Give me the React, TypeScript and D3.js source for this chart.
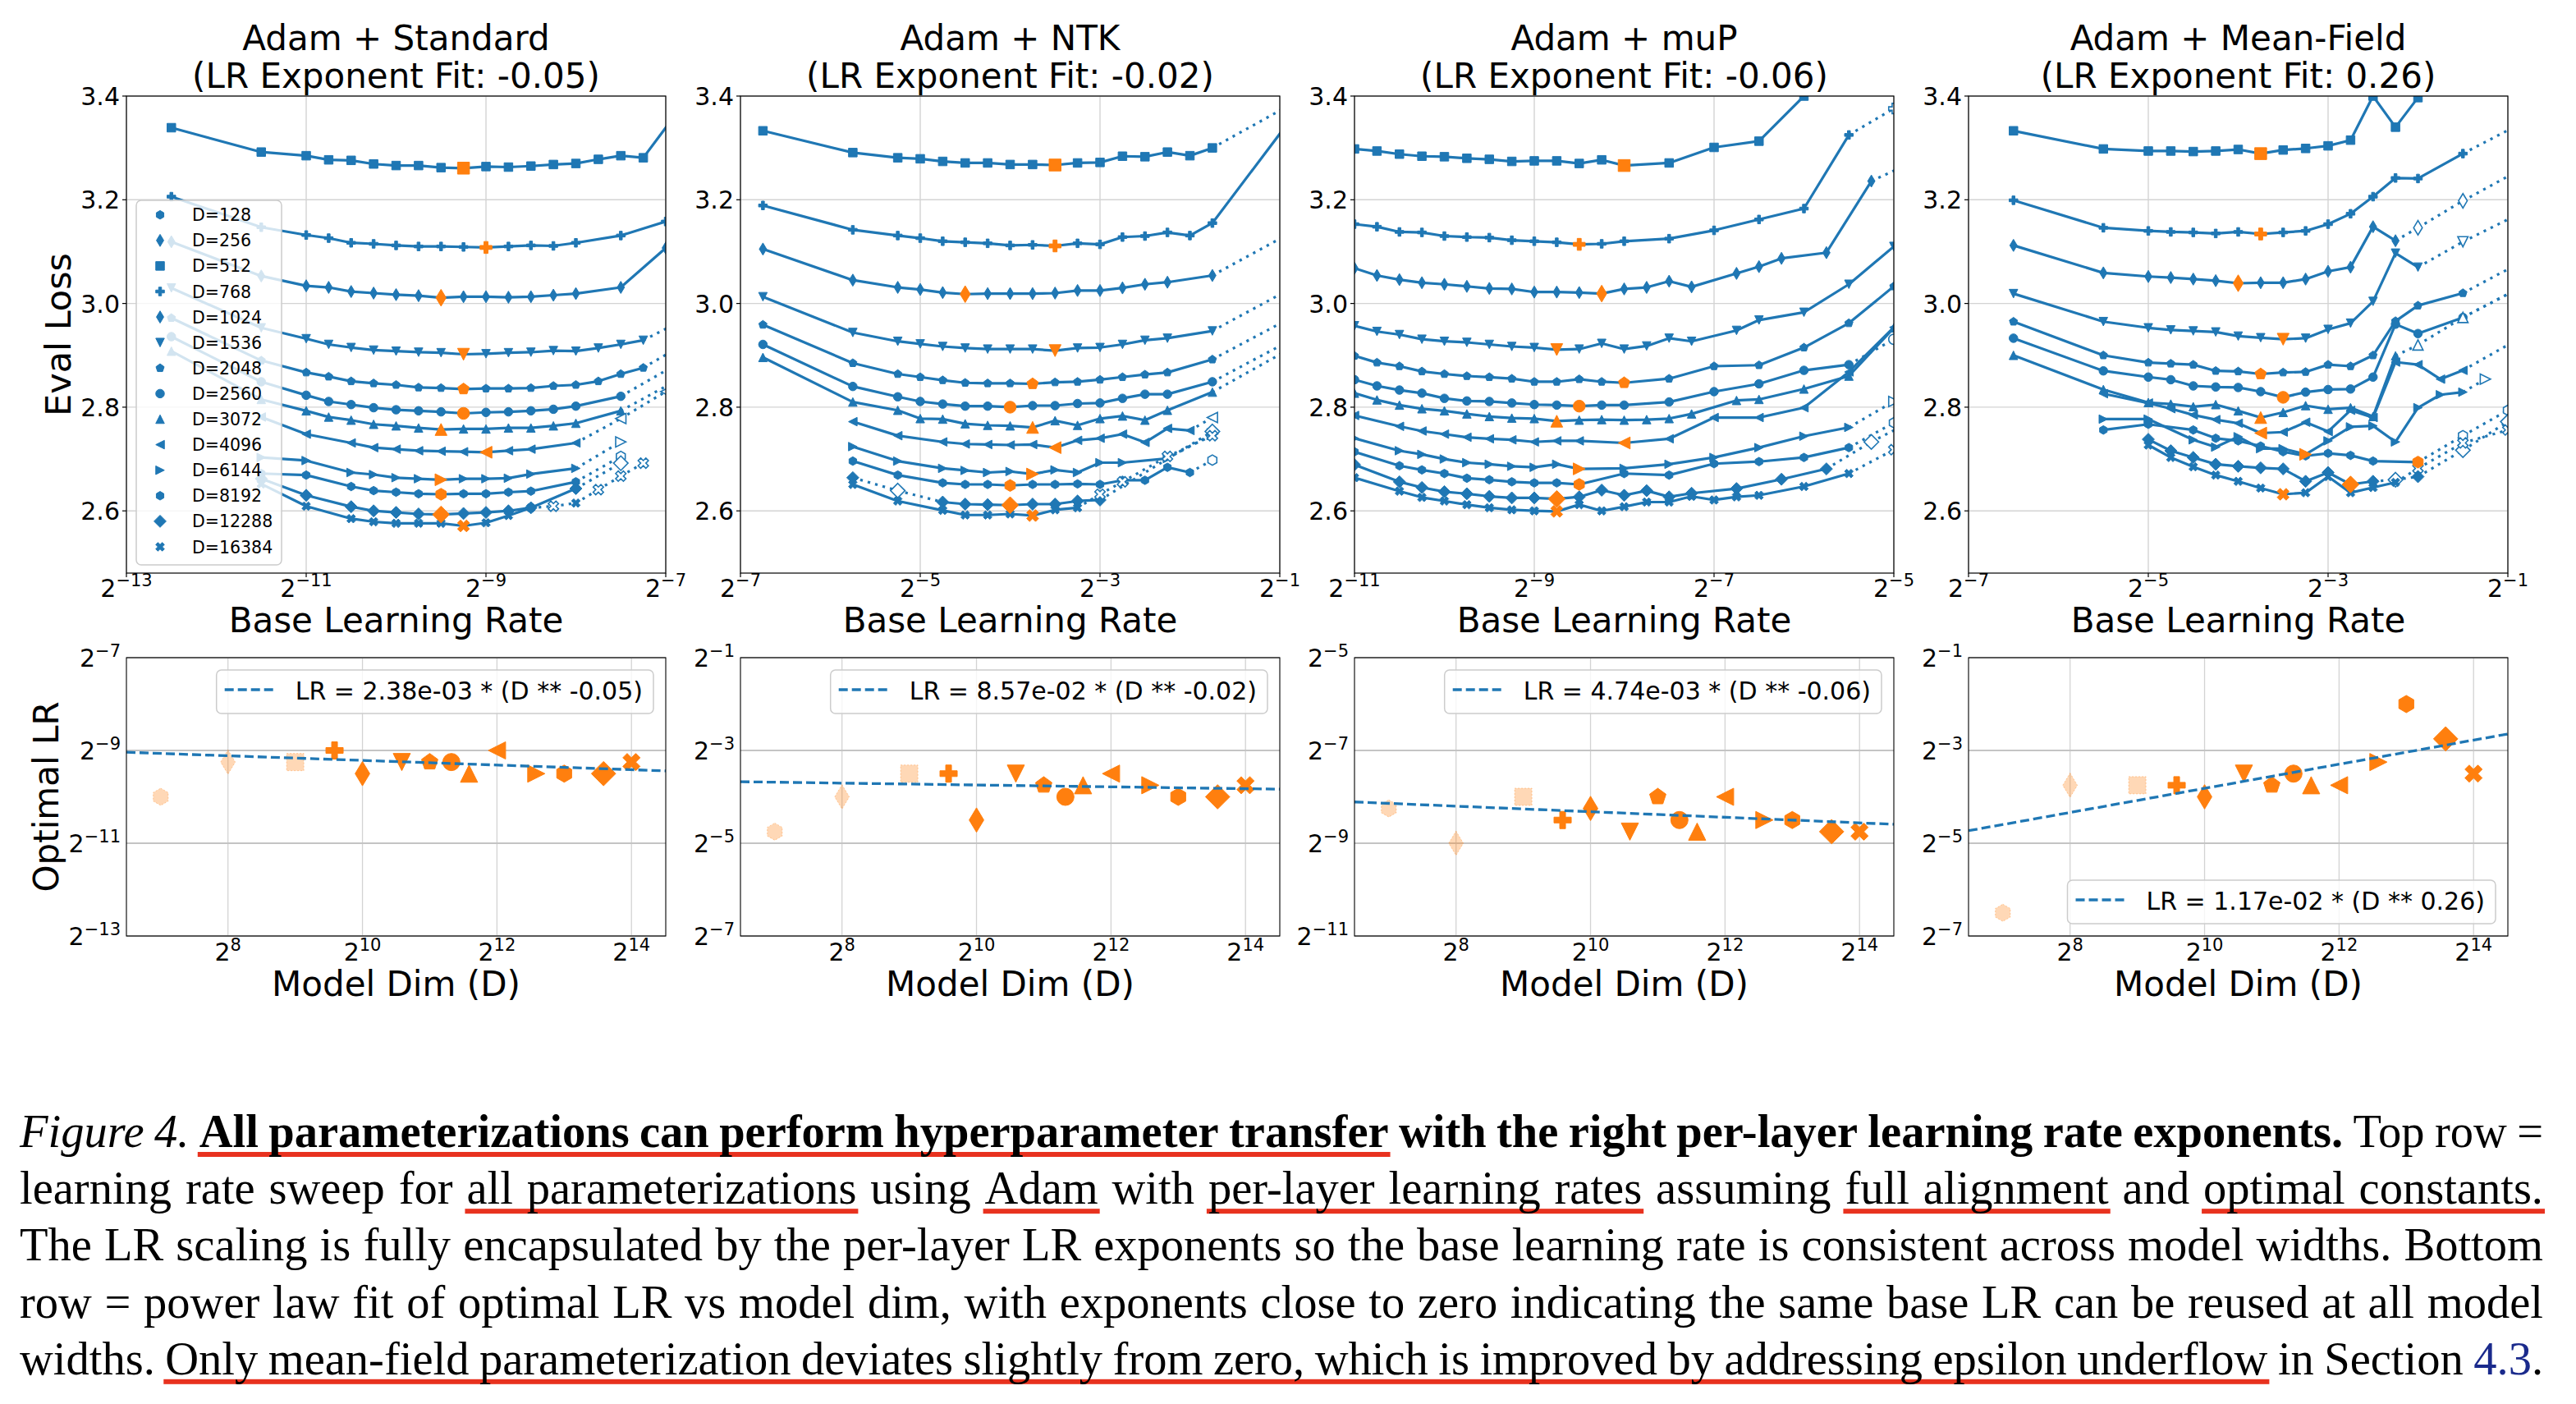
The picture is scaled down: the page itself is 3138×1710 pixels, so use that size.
import React, { useEffect, useRef } from "react";
import * as d3 from "d3";

type Pt = number[]; // [log2(base LR), eval loss, imputed? 1 : 0]
type Curve = { d: number; pts: Pt[] };

// ---------------- data ----------------
const MODEL_DIMS = [128, 256, 512, 768, 1024, 1536, 2048, 2560, 3072, 4096, 6144, 8192, 12288, 16384];
const MODEL_MARKERS = ["h", "d", "s", "P", "d", "v", "p", "o", "^", "<", ">", "h", "D", "X"];
const FADED_DIMS = [128, 256, 512];
const PANEL_TITLES = ["Adam + Standard", "Adam + NTK", "Adam + muP", "Adam + Mean-Field"];
const FIT_COEFS = [2.38e-3, 8.57e-2, 4.74e-3, 1.17e-2];
const FIT_EXPONENTS = [-0.05, -0.02, -0.06, 0.26];
const LR_EXP_RANGES = [[-13, -7], [-7, -1], [-11, -5], [-7, -1]];
const OPT_EXP_RANGES = [[-13, -7], [-7, -1], [-11, -5], [-7, -1]];
const LOSS_RANGE = [2.48, 3.4];
const LOSS_TICKS = [2.6, 2.8, 3.0, 3.2, 3.4];
const DIM_EXP_RANGE = [6.49, 14.51];
const DIM_EXP_TICKS = [8, 10, 12, 14];
const LEGEND_AT_BOTTOM = [false, false, false, true];

// optimal log2(LR) per model dim (bottom row), order = MODEL_DIMS
const OPT_STANDARD = [-10, -9.25, -9.25, -9, -9.5, -9.25, -9.25, -9.25, -9.5, -9, -9.5, -9.5, -9.5, -9.25];
const OPT_NTK = [-4.75, -4, -3.5, -3.5, -4.5, -3.5, -3.75, -4, -3.75, -3.5, -3.75, -4, -4, -3.75];
const OPT_MUP = [-8.25, -9, -8, -8.5, -8.25, -8.75, -8, -8.5, -8.75, -8, -8.5, -8.5, -8.75, -8.75];
const OPT_MEANFIELD = [-6.5, -3.75, -3.75, -3.75, -4, -3.5, -3.75, -3.5, -3.75, -3.75, -3.25, -2, -2.75, -3.5];

const SWEEP_STANDARD: Curve[] = [
  { d: 512, pts: [[-12.5, 3.339], [-11.5, 3.292], [-11, 3.285], [-10.75, 3.277], [-10.5, 3.276], [-10.25, 3.269], [-10, 3.266], [-9.75, 3.266], [-9.5, 3.262], [-9.25, 3.261], [-9, 3.264], [-8.75, 3.263], [-8.5, 3.265], [-8.25, 3.268], [-8, 3.27], [-7.75, 3.278], [-7.5, 3.285], [-7.25, 3.281], [-6.75, 3.397]] },
  { d: 768, pts: [[-12.5, 3.206], [-11.5, 3.147], [-11, 3.132], [-10.75, 3.126], [-10.5, 3.117], [-10.25, 3.115], [-10, 3.112], [-9.75, 3.11], [-9.5, 3.11], [-9.25, 3.109], [-9, 3.108], [-8.75, 3.11], [-8.5, 3.112], [-8.25, 3.111], [-8, 3.117], [-7.5, 3.131], [-7, 3.158]] },
  { d: 1024, pts: [[-12.5, 3.119], [-11.5, 3.053], [-11, 3.034], [-10.75, 3.031], [-10.5, 3.023], [-10.25, 3.02], [-10, 3.017], [-9.75, 3.015], [-9.5, 3.011], [-9.25, 3.013], [-9, 3.013], [-8.75, 3.012], [-8.5, 3.013], [-8.25, 3.016], [-8, 3.019], [-7.5, 3.031], [-7, 3.107]] },
  { d: 1536, pts: [[-12.5, 3.03], [-11.5, 2.953], [-11, 2.932], [-10.75, 2.921], [-10.5, 2.915], [-10.25, 2.91], [-10, 2.908], [-9.75, 2.906], [-9.5, 2.905], [-9.25, 2.902], [-9, 2.903], [-8.75, 2.905], [-8.5, 2.906], [-8.25, 2.909], [-8, 2.908], [-7.75, 2.914], [-7.5, 2.921], [-7.25, 2.929], [-6.5, 2.995, 1]] },
  { d: 2048, pts: [[-12.5, 2.972], [-11.5, 2.89], [-11, 2.867], [-10.75, 2.859], [-10.5, 2.85], [-10.25, 2.846], [-10, 2.843], [-9.75, 2.838], [-9.5, 2.837], [-9.25, 2.835], [-9, 2.836], [-8.75, 2.836], [-8.5, 2.837], [-8.25, 2.841], [-8, 2.843], [-7.75, 2.85], [-7.5, 2.864], [-7.25, 2.876], [-6.5, 2.951, 1]] },
  { d: 2560, pts: [[-12.5, 2.936], [-11.5, 2.849], [-11, 2.823], [-10.75, 2.811], [-10.5, 2.805], [-10.25, 2.799], [-10, 2.795], [-9.75, 2.793], [-9.5, 2.791], [-9.25, 2.788], [-9, 2.79], [-8.75, 2.791], [-8.5, 2.793], [-8.25, 2.796], [-8, 2.802], [-7.5, 2.821], [-6.5, 2.92, 1]] },
  { d: 3072, pts: [[-12.5, 2.908], [-11.5, 2.815], [-11, 2.793], [-10.75, 2.781], [-10.5, 2.775], [-10.25, 2.767], [-10, 2.764], [-9.75, 2.76], [-9.5, 2.757], [-9.25, 2.758], [-9, 2.758], [-8.75, 2.76], [-8.5, 2.76], [-8.25, 2.764], [-8, 2.769], [-7.5, 2.793], [-6.5, 2.887, 1]] },
  { d: 4096, pts: [[-11.5, 2.781], [-11, 2.748], [-10.5, 2.731], [-10.25, 2.722], [-10, 2.719], [-9.75, 2.716], [-9.5, 2.715], [-9.25, 2.714], [-9, 2.713], [-8.75, 2.716], [-8.5, 2.719], [-8, 2.731], [-7.5, 2.778, 1], [-7, 2.83, 1]] },
  { d: 6144, pts: [[-11.5, 2.703], [-11, 2.697], [-10.5, 2.674], [-10.25, 2.67], [-10, 2.664], [-9.75, 2.662], [-9.5, 2.66], [-9.25, 2.662], [-9, 2.662], [-8.75, 2.663], [-8.5, 2.671], [-8, 2.682], [-7.5, 2.733, 1]] },
  { d: 8192, pts: [[-11.5, 2.672], [-11, 2.669], [-10.5, 2.647], [-10.25, 2.639], [-10, 2.636], [-9.75, 2.633], [-9.5, 2.632], [-9.25, 2.633], [-9, 2.633], [-8.75, 2.636], [-8.5, 2.638], [-8, 2.656], [-7.5, 2.705, 1]] },
  { d: 12288, pts: [[-11.5, 2.662], [-11, 2.63], [-10.5, 2.608], [-10.25, 2.6], [-10, 2.597], [-9.75, 2.594], [-9.5, 2.593], [-9.25, 2.595], [-9, 2.597], [-8.75, 2.6], [-8.5, 2.606], [-8, 2.643], [-7.5, 2.692, 1]] },
  { d: 16384, pts: [[-11.5, 2.652], [-11, 2.609], [-10.5, 2.585], [-10.25, 2.579], [-10, 2.576], [-9.75, 2.576], [-9.5, 2.576], [-9.25, 2.571], [-9, 2.577], [-8.75, 2.591], [-8.5, 2.606], [-8.25, 2.609, 1], [-8, 2.615], [-7.75, 2.641, 1], [-7.5, 2.667, 1], [-7.25, 2.692, 1]] },
];

const SWEEP_NTK: Curve[] = [
  { d: 512, pts: [[-6.75, 3.333], [-5.75, 3.291], [-5.25, 3.281], [-5, 3.279], [-4.75, 3.274], [-4.5, 3.271], [-4.25, 3.271], [-4, 3.268], [-3.75, 3.268], [-3.5, 3.267], [-3.25, 3.271], [-3, 3.272], [-2.75, 3.284], [-2.5, 3.283], [-2.25, 3.292], [-2, 3.285], [-1.75, 3.3], [-0.5, 3.42, 1]] },
  { d: 768, pts: [[-6.75, 3.189], [-5.75, 3.142], [-5.25, 3.131], [-5, 3.126], [-4.75, 3.12], [-4.5, 3.118], [-4.25, 3.116], [-4, 3.112], [-3.75, 3.113], [-3.5, 3.111], [-3.25, 3.116], [-3, 3.114], [-2.75, 3.128], [-2.5, 3.13], [-2.25, 3.137], [-2, 3.131], [-1.75, 3.155], [-0.5, 3.442]] },
  { d: 1024, pts: [[-6.75, 3.105], [-5.75, 3.045], [-5.25, 3.031], [-5, 3.027], [-4.75, 3.021], [-4.5, 3.018], [-4.25, 3.019], [-4, 3.019], [-3.75, 3.019], [-3.5, 3.02], [-3.25, 3.025], [-3, 3.025], [-2.75, 3.03], [-2.5, 3.037], [-2.25, 3.041], [-1.75, 3.054], [-0.5, 3.172, 1]] },
  { d: 1536, pts: [[-6.75, 3.013], [-5.75, 2.944], [-5.25, 2.927], [-5, 2.922], [-4.75, 2.917], [-4.5, 2.914], [-4.25, 2.912], [-4, 2.912], [-3.75, 2.912], [-3.5, 2.909], [-3.25, 2.914], [-3, 2.915], [-2.75, 2.921], [-2.5, 2.929], [-2.25, 2.933], [-1.75, 2.947], [-0.5, 3.064, 1]] },
  { d: 2048, pts: [[-6.75, 2.959], [-5.75, 2.885], [-5.25, 2.864], [-5, 2.858], [-4.75, 2.852], [-4.5, 2.847], [-4.25, 2.846], [-4, 2.846], [-3.75, 2.845], [-3.5, 2.848], [-3.25, 2.849], [-3, 2.853], [-2.75, 2.858], [-2.5, 2.863], [-2.25, 2.867], [-1.75, 2.892], [-0.5, 3.007, 1]] },
  { d: 2560, pts: [[-6.75, 2.921], [-5.75, 2.84], [-5.25, 2.82], [-5, 2.811], [-4.75, 2.806], [-4.5, 2.802], [-4.25, 2.802], [-4, 2.8], [-3.75, 2.803], [-3.5, 2.803], [-3.25, 2.807], [-3, 2.808], [-2.75, 2.817], [-2.5, 2.825], [-2.25, 2.825], [-1.75, 2.849], [-0.5, 2.964, 1]] },
  { d: 3072, pts: [[-6.75, 2.896], [-5.75, 2.81], [-5.25, 2.794], [-5, 2.778], [-4.75, 2.777], [-4.5, 2.768], [-4.25, 2.765], [-4, 2.764], [-3.75, 2.761], [-3.5, 2.774], [-3.25, 2.765], [-3, 2.778], [-2.75, 2.783], [-2.5, 2.775], [-2.25, 2.794], [-1.75, 2.829], [-0.5, 2.95, 1]] },
  { d: 4096, pts: [[-5.75, 2.772], [-5.25, 2.745], [-4.75, 2.733], [-4.5, 2.729], [-4.25, 2.728], [-4, 2.727], [-3.75, 2.728], [-3.5, 2.722], [-3.25, 2.736], [-3, 2.74], [-2.75, 2.748], [-2.5, 2.732], [-2.25, 2.759], [-2, 2.755], [-1.75, 2.78, 1]] },
  { d: 6144, pts: [[-5.75, 2.724], [-5.25, 2.696], [-4.75, 2.682], [-4.5, 2.678], [-4.25, 2.674], [-4, 2.676], [-3.75, 2.671], [-3.5, 2.679], [-3.25, 2.674], [-3, 2.693], [-2.75, 2.693], [-2.25, 2.701], [-1.75, 2.748, 1]] },
  { d: 8192, pts: [[-5.75, 2.696], [-5.25, 2.669], [-4.75, 2.654], [-4.5, 2.651], [-4.25, 2.651], [-4, 2.649], [-3.75, 2.651], [-3.5, 2.651], [-3.25, 2.652], [-3, 2.651], [-2.75, 2.659], [-2.5, 2.659], [-2.25, 2.684], [-2, 2.674], [-1.75, 2.698, 1]] },
  { d: 12288, pts: [[-5.75, 2.664], [-5.25, 2.639, 1], [-4.75, 2.617], [-4.5, 2.613], [-4.25, 2.612], [-4, 2.611], [-3.75, 2.613], [-3.5, 2.613], [-3.25, 2.619], [-3, 2.621], [-1.75, 2.753, 1]] },
  { d: 16384, pts: [[-5.75, 2.651], [-5.25, 2.619], [-4.75, 2.601], [-4.5, 2.592], [-4.25, 2.592], [-4, 2.594], [-3.75, 2.591], [-3.5, 2.602], [-3.25, 2.606], [-3, 2.632, 1], [-2.75, 2.656, 1], [-2.25, 2.705, 1], [-1.75, 2.745, 1]] },
];

const SWEEP_MUP: Curve[] = [
  { d: 512, pts: [[-11, 3.298], [-10.75, 3.294], [-10.5, 3.288], [-10.25, 3.284], [-10, 3.283], [-9.75, 3.28], [-9.5, 3.278], [-9.25, 3.274], [-9, 3.275], [-8.75, 3.275], [-8.5, 3.27], [-8.25, 3.277], [-8, 3.266], [-7.5, 3.271], [-7, 3.301], [-6.5, 3.313], [-6, 3.4], [-5.5, 3.55]] },
  { d: 768, pts: [[-11, 3.153], [-10.75, 3.148], [-10.5, 3.138], [-10.25, 3.137], [-10, 3.13], [-9.75, 3.128], [-9.5, 3.127], [-9.25, 3.122], [-9, 3.12], [-8.75, 3.118], [-8.5, 3.114], [-8.25, 3.115], [-8, 3.12], [-7.5, 3.125], [-7, 3.141], [-6.5, 3.162], [-6, 3.183], [-5.5, 3.325], [-5, 3.376, 1]] },
  { d: 1024, pts: [[-11, 3.068], [-10.75, 3.054], [-10.5, 3.046], [-10.25, 3.04], [-10, 3.037], [-9.75, 3.033], [-9.5, 3.029], [-9.25, 3.028], [-9, 3.022], [-8.75, 3.022], [-8.5, 3.021], [-8.25, 3.019], [-8, 3.028], [-7.75, 3.031], [-7.5, 3.043], [-7.25, 3.032], [-6.75, 3.058], [-6.5, 3.071], [-6.25, 3.087], [-5.75, 3.098], [-5.25, 3.236], [-4.5, 3.296, 1]] },
  { d: 1536, pts: [[-11, 2.957], [-10.75, 2.946], [-10.5, 2.94], [-10.25, 2.931], [-10, 2.927], [-9.75, 2.925], [-9.5, 2.921], [-9.25, 2.917], [-9, 2.915], [-8.75, 2.911], [-8.5, 2.912], [-8.25, 2.923], [-8, 2.912], [-7.75, 2.918], [-7.5, 2.933], [-7.25, 2.927], [-6.75, 2.948], [-6.5, 2.968], [-6, 2.983], [-5.5, 3.037], [-5, 3.11]] },
  { d: 2048, pts: [[-11, 2.899], [-10.75, 2.886], [-10.5, 2.879], [-10.25, 2.869], [-10, 2.864], [-9.75, 2.86], [-9.5, 2.858], [-9.25, 2.855], [-9, 2.849], [-8.75, 2.849], [-8.5, 2.854], [-8.25, 2.849], [-8, 2.847], [-7.5, 2.855], [-7, 2.879], [-6.5, 2.881], [-6, 2.915], [-5.5, 2.962], [-5, 3.033]] },
  { d: 2560, pts: [[-11, 2.853], [-10.75, 2.841], [-10.5, 2.833], [-10.25, 2.827], [-10, 2.817], [-9.75, 2.812], [-9.5, 2.811], [-9.25, 2.808], [-9, 2.805], [-8.75, 2.804], [-8.5, 2.802], [-8.25, 2.804], [-8, 2.804], [-7.5, 2.81], [-7, 2.83], [-6.5, 2.845], [-6, 2.871], [-5.5, 2.882], [-5, 2.931, 1]] },
  { d: 3072, pts: [[-11, 2.827], [-10.75, 2.814], [-10.5, 2.804], [-10.25, 2.797], [-10, 2.793], [-9.75, 2.787], [-9.5, 2.782], [-9.25, 2.779], [-9, 2.778], [-8.75, 2.773], [-8.5, 2.775], [-8.25, 2.776], [-8, 2.775], [-7.75, 2.776], [-7.5, 2.778], [-7.25, 2.787], [-6.75, 2.813], [-6.5, 2.815], [-6, 2.835], [-5.5, 2.86], [-5, 2.953]] },
  { d: 4096, pts: [[-11, 2.784], [-10.5, 2.763], [-10.25, 2.754], [-10, 2.748], [-9.75, 2.742], [-9.5, 2.739], [-9.25, 2.737], [-9, 2.733], [-8.75, 2.735], [-8.5, 2.735], [-8, 2.731], [-7.5, 2.739], [-7, 2.78], [-6.5, 2.78], [-6, 2.799], [-5.5, 2.868], [-5, 2.954]] },
  { d: 6144, pts: [[-11, 2.74], [-10.5, 2.716], [-10.25, 2.709], [-10, 2.7], [-9.75, 2.693], [-9.5, 2.69], [-9.25, 2.686], [-9, 2.684], [-8.75, 2.69], [-8.5, 2.681], [-8, 2.682], [-7.5, 2.69], [-7, 2.703], [-6.5, 2.722], [-6, 2.744], [-5.5, 2.761], [-5, 2.811, 1]] },
  { d: 8192, pts: [[-11, 2.714], [-10.5, 2.687], [-10.25, 2.679], [-10, 2.672], [-9.75, 2.663], [-9.5, 2.66], [-9.25, 2.656], [-9, 2.654], [-8.75, 2.654], [-8.5, 2.651], [-8, 2.672], [-7.5, 2.669], [-7, 2.691], [-6.5, 2.695], [-6, 2.703], [-5.5, 2.722], [-5, 2.77, 1]] },
  { d: 12288, pts: [[-11, 2.689], [-10.5, 2.656], [-10.25, 2.645], [-10, 2.637], [-9.75, 2.633], [-9.5, 2.628], [-9.25, 2.625], [-9, 2.625], [-8.75, 2.623], [-8.5, 2.627], [-8.25, 2.64], [-8, 2.63], [-7.75, 2.639], [-7.5, 2.627], [-7.25, 2.634], [-6.75, 2.643], [-6.25, 2.661], [-5.75, 2.681], [-5.25, 2.733, 1], [-4.5, 2.8, 1]] },
  { d: 16384, pts: [[-11, 2.664], [-10.5, 2.638], [-10.25, 2.626], [-10, 2.619], [-9.75, 2.612], [-9.5, 2.606], [-9.25, 2.602], [-9, 2.6], [-8.75, 2.599], [-8.5, 2.612], [-8.25, 2.6], [-8, 2.608], [-7.75, 2.617], [-7.5, 2.617], [-7.25, 2.628], [-7, 2.621], [-6.75, 2.627], [-6.5, 2.63], [-6, 2.647], [-5.5, 2.672], [-5, 2.718, 1]] },
];

const SWEEP_MEANFIELD: Curve[] = [
  { d: 512, pts: [[-6.5, 3.333], [-5.5, 3.298], [-5, 3.294], [-4.75, 3.294], [-4.5, 3.293], [-4.25, 3.294], [-4, 3.297], [-3.75, 3.289], [-3.5, 3.296], [-3.25, 3.299], [-3, 3.304], [-2.75, 3.315], [-2.5, 3.4], [-2.25, 3.34], [-2, 3.397], [-1.75, 3.5]] },
  { d: 768, pts: [[-6.5, 3.199], [-5.5, 3.146], [-5, 3.14], [-4.75, 3.138], [-4.5, 3.137], [-4.25, 3.135], [-4, 3.138], [-3.75, 3.134], [-3.5, 3.137], [-3.25, 3.14], [-3, 3.153], [-2.75, 3.173], [-2.5, 3.206], [-2.25, 3.242], [-2, 3.241], [-1.5, 3.289], [-0.5, 3.379, 1]] },
  { d: 1024, pts: [[-6.5, 3.112], [-5.5, 3.059], [-5, 3.052], [-4.75, 3.05], [-4.5, 3.047], [-4.25, 3.044], [-4, 3.039], [-3.75, 3.04], [-3.5, 3.04], [-3.25, 3.047], [-3, 3.062], [-2.75, 3.07], [-2.5, 3.148], [-2.25, 3.121], [-2, 3.146, 1], [-1.5, 3.198, 1], [-0.5, 3.292, 1]] },
  { d: 1536, pts: [[-6.5, 3.019], [-5.5, 2.965], [-5, 2.953], [-4.75, 2.949], [-4.5, 2.947], [-4.25, 2.945], [-4, 2.937], [-3.75, 2.934], [-3.5, 2.931], [-3.25, 2.933], [-3, 2.95], [-2.75, 2.962], [-2.5, 3.004], [-2.25, 3.097], [-2, 3.07], [-1.5, 3.119, 1], [-0.5, 3.205, 1]] },
  { d: 2048, pts: [[-6.5, 2.965], [-5.5, 2.9], [-5, 2.886], [-4.75, 2.884], [-4.5, 2.882], [-4.25, 2.87], [-4, 2.869], [-3.75, 2.864], [-3.5, 2.867], [-3.25, 2.868], [-3, 2.882], [-2.75, 2.879], [-2.5, 2.9], [-2.25, 2.966], [-2, 2.996], [-1.5, 3.02], [-0.5, 3.112, 1]] },
  { d: 2560, pts: [[-6.5, 2.933], [-5.5, 2.87], [-5, 2.858], [-4.75, 2.853], [-4.5, 2.841], [-4.25, 2.839], [-4, 2.838], [-3.75, 2.83], [-3.5, 2.819], [-3.25, 2.829], [-3, 2.834], [-2.75, 2.835], [-2.5, 2.858], [-2.25, 2.96], [-2, 2.942], [-1.5, 2.973], [-0.5, 3.063, 1]] },
  { d: 3072, pts: [[-6.5, 2.9], [-5.5, 2.834], [-5, 2.809], [-4.75, 2.806], [-4.5, 2.801], [-4.25, 2.805], [-4, 2.793], [-3.75, 2.78], [-3.5, 2.79], [-3.25, 2.803], [-3, 2.796], [-2.75, 2.799], [-2.5, 2.782], [-2.25, 2.899], [-2, 2.92, 1], [-1.5, 2.973, 1], [-0.5, 3.063, 1]] },
  { d: 4096, pts: [[-5.5, 2.826], [-5, 2.808], [-4.75, 2.797], [-4.5, 2.785], [-4.25, 2.776], [-4, 2.769], [-3.75, 2.75], [-3.5, 2.752], [-3.25, 2.771], [-3, 2.753], [-2.75, 2.794], [-2.5, 2.78], [-2.25, 2.887], [-2, 2.882], [-1.75, 2.854], [-1.5, 2.871], [-0.5, 2.969, 1]] },
  { d: 6144, pts: [[-5.5, 2.777], [-5, 2.777], [-4.5, 2.737], [-4.25, 2.723], [-4, 2.743], [-3.75, 2.72], [-3.5, 2.72], [-3.25, 2.709], [-3, 2.735], [-2.75, 2.762], [-2.5, 2.764], [-2.25, 2.733], [-2, 2.799], [-1.75, 2.824], [-1.5, 2.829], [-1.25, 2.854, 1]] },
  { d: 8192, pts: [[-5.5, 2.756], [-5, 2.767], [-4.5, 2.756], [-4.25, 2.74], [-4, 2.735], [-3.75, 2.725], [-3.5, 2.714], [-3.25, 2.706], [-3, 2.711], [-2.75, 2.707], [-2.5, 2.696], [-2, 2.694], [-1.5, 2.745, 1], [-1, 2.794, 1]] },
  { d: 12288, pts: [[-5, 2.738], [-4.75, 2.716], [-4.5, 2.703], [-4.25, 2.69], [-4, 2.686], [-3.75, 2.683], [-3.5, 2.681], [-3.25, 2.657], [-3, 2.674], [-2.75, 2.651], [-2.5, 2.657], [-2.25, 2.66, 1], [-2, 2.666], [-1.5, 2.717, 1], [-1, 2.772, 1]] },
  { d: 16384, pts: [[-5, 2.727], [-4.75, 2.703], [-4.5, 2.685], [-4.25, 2.669], [-4, 2.657], [-3.75, 2.644], [-3.5, 2.632], [-3.25, 2.635], [-3, 2.666], [-2.75, 2.635], [-2.5, 2.645], [-2.25, 2.655], [-2, 2.682, 1], [-1.5, 2.731, 1], [-1, 2.756, 1]] },
];

const SWEEPS = [SWEEP_STANDARD, SWEEP_NTK, SWEEP_MUP, SWEEP_MEANFIELD];
const OPTIMA = [OPT_STANDARD, OPT_NTK, OPT_MUP, OPT_MEANFIELD];

type Run = { t: string; s?: string; u?: boolean; link?: boolean; glue?: boolean };
const CAPTION: Run[][] = [
  [{ t: "Figure 4.", s: "i" }, { t: "All parameterizations can perform hyperparameter transfer", s: "b", u: true }, { t: "with the right per-layer learning rate exponents.", s: "b" }, { t: "Top row =" }],
  [{ t: "learning rate sweep for" }, { t: "all parameterizations", u: true }, { t: "using" }, { t: "Adam", u: true }, { t: "with" }, { t: "per-layer learning rates", u: true }, { t: "assuming" }, { t: "full alignment", u: true }, { t: "and" }, { t: "optimal constants.", u: true }],
  [{ t: "The LR scaling is fully encapsulated by the per-layer LR exponents so the base learning rate is consistent across model widths. Bottom" }],
  [{ t: "row = power law fit of optimal LR vs model dim, with exponents close to zero indicating the same base LR can be reused at all model" }],
  [{ t: "widths." }, { t: "Only mean-field parameterization deviates slightly from zero, which is improved by addressing epsilon underflow", u: true }, { t: "in Section" }, { t: "4.3", link: true }, { t: ".", glue: true }],
];

// ---------------- layout / style ----------------
const W = 3138, H = 1710;
const SANS = "'DejaVu Sans', 'Liberation Sans', sans-serif";
const SERIF = "'Liberation Serif', 'Times New Roman', serif";
const BLUE = "#1f77b4", ORANGE = "#ff7f0e", GRID = "#d3d3d3";
const PANEL_X = [154, 902, 1650, 2398];
const PANEL_W = 657;
const TOP_Y0 = 117, TOP_Y1 = 698, BOT_Y0 = 801, BOT_Y1 = 1140;
const MS = 10.5, MS_OPT = 14.5, MS_HOLLOW = 12.5, MS_BOT = 21;
const LW = 3.2;

function markerPath(m: string, s: number): string {
  const h = s / 2;
  const poly = (p: number[][]) => "M" + p.map((q) => `${q[0].toFixed(2)},${q[1].toFixed(2)}`).join("L") + "Z";
  const regular = (n: number) =>
    poly(d3.range(n).map((k) => { const a = -Math.PI / 2 + (2 * Math.PI * k) / n; return [h * Math.cos(a), h * Math.sin(a)]; }));
  switch (m) {
    case "o": return `M${h},0A${h},${h},0,1,1,${-h},0A${h},${h},0,1,1,${h},0Z`;
    case "s": return poly([[-h, -h], [h, -h], [h, h], [-h, h]]);
    case "^": return poly([[0, -h], [h, h], [-h, h]]);
    case "v": return poly([[0, h], [h, -h], [-h, -h]]);
    case "<": return poly([[-h, 0], [h, -h], [h, h]]);
    case ">": return poly([[h, 0], [-h, -h], [-h, h]]);
    case "D": { const a = s * Math.SQRT1_2; return poly([[0, -a], [a, 0], [0, a], [-a, 0]]); }
    case "d": { const a = s * Math.SQRT1_2; return poly([[0, -a], [0.6 * a, 0], [0, a], [-0.6 * a, 0]]); }
    case "p": return regular(5);
    case "h": return regular(6);
    case "P": { const u = s / 6; return poly([[-1, -3], [1, -3], [1, -1], [3, -1], [3, 1], [1, 1], [1, 3], [-1, 3], [-1, 1], [-3, 1], [-3, -1], [-1, -1]].map((q) => [q[0] * u, q[1] * u])); }
    case "X": { const u = s / 4; return poly([[-1, -2], [0, -1], [1, -2], [2, -1], [1, 0], [2, 1], [1, 2], [0, 1], [-1, 2], [-2, 1], [-1, 0], [-2, -1]].map((q) => [q[0] * u, q[1] * u])); }
  }
  return "";
}

function markerFor(d: number) { return MODEL_MARKERS[MODEL_DIMS.indexOf(d)]; }

function powLabel(sel: any, base: string, exp: number, fs: number, supShift: number) {
  sel.append("tspan").text(base);
  sel.append("tspan").attr("dy", -supShift).attr("font-size", fs * 0.7).text(exp < 0 ? "\u2212" + Math.abs(exp) : String(exp));
}

function fmtCoef(c: number) {
  const [m, e] = c.toExponential(2).split("e");
  const n = parseInt(e, 10);
  return `${m}e${n < 0 ? "-" : "+"}${String(Math.abs(n)).padStart(2, "0")}`;
}

function drawTop(svg: any, defs: any, i: number) {
  const x0 = PANEL_X[i], x1 = x0 + PANEL_W;
  const [lo, hi] = LR_EXP_RANGES[i];
  const xs = d3.scaleLog().base(2).domain([2 ** lo, 2 ** hi]).range([x0, x1]);
  const ys = d3.scaleLinear().domain(LOSS_RANGE).range([TOP_Y1, TOP_Y0]);
  const g = svg.append("g");
  const xTicks = d3.range(lo, hi + 0.01, 2);

  g.selectAll(null).data(xTicks).join("line")
    .attr("x1", (t: number) => xs(2 ** t)).attr("x2", (t: number) => xs(2 ** t))
    .attr("y1", TOP_Y0).attr("y2", TOP_Y1).attr("stroke", GRID).attr("stroke-width", 1.4);
  g.selectAll(null).data(LOSS_TICKS).join("line")
    .attr("x1", x0).attr("x2", x1).attr("y1", (v: number) => ys(v)).attr("y2", (v: number) => ys(v))
    .attr("stroke", GRID).attr("stroke-width", 1.4);

  const clipId = `clip-top-${i}`;
  defs.append("clipPath").attr("id", clipId).append("rect")
    .attr("x", x0).attr("y", TOP_Y0).attr("width", PANEL_W).attr("height", TOP_Y1 - TOP_Y0);
  const data = g.append("g").attr("clip-path", `url(#${clipId})`);
  const line = d3.line<Pt>().x((p) => xs(2 ** p[0])).y((p) => ys(p[1]));

  SWEEPS[i].forEach((c) => {
    const pts = c.pts;
    const solidRuns: Pt[][] = [];
    const dotted: Pt[][] = [];
    let cur: Pt[] | null = null;
    for (let k = 0; k < pts.length - 1; k++) {
      const a = pts[k], b = pts[k + 1];
      if (a[2] || b[2]) { dotted.push([a, b]); cur = null; }
      else {
        if (!cur) { cur = [a]; solidRuns.push(cur); }
        cur.push(b);
      }
    }
    data.append("path").attr("d", solidRuns.map((r) => line(r)).join(""))
      .attr("fill", "none").attr("stroke", BLUE).attr("stroke-width", LW).attr("stroke-linejoin", "round");
    data.append("path").attr("d", dotted.map((r) => line(r)).join(""))
      .attr("fill", "none").attr("stroke", BLUE).attr("stroke-width", LW).attr("stroke-dasharray", "3.2 6.2");
    const m = markerFor(c.d);
    pts.forEach((p) => {
      const hollow = !!p[2];
      data.append("path").attr("d", markerPath(m, hollow ? MS_HOLLOW : MS))
        .attr("transform", `translate(${xs(2 ** p[0])},${ys(p[1])})`)
        .attr("fill", hollow ? "#fff" : BLUE).attr("stroke", BLUE).attr("stroke-width", hollow ? 1.6 : 1);
    });
  });
  // optimal points (orange)
  SWEEPS[i].forEach((c) => {
    const k = MODEL_DIMS.indexOf(c.d);
    const opt = OPTIMA[i][k];
    const p = c.pts.find((q) => Math.abs(q[0] - opt) < 1e-6);
    if (!p) return;
    data.append("path").attr("d", markerPath(markerFor(c.d), MS_OPT))
      .attr("transform", `translate(${xs(2 ** p[0])},${ys(p[1])})`)
      .attr("fill", ORANGE).attr("stroke", ORANGE).attr("stroke-width", 1);
  });

  // spines + ticks
  g.append("rect").attr("x", x0).attr("y", TOP_Y0).attr("width", PANEL_W).attr("height", TOP_Y1 - TOP_Y0)
    .attr("fill", "none").attr("stroke", "#000").attr("stroke-width", 1.2);
  g.selectAll(null).data(LOSS_TICKS).join("line")
    .attr("x1", x0 - 5).attr("x2", x0).attr("y1", (v: number) => ys(v)).attr("y2", (v: number) => ys(v))
    .attr("stroke", "#000").attr("stroke-width", 1.2);
  g.selectAll(null).data(xTicks).join("line")
    .attr("x1", (t: number) => xs(2 ** t)).attr("x2", (t: number) => xs(2 ** t))
    .attr("y1", TOP_Y1).attr("y2", TOP_Y1 + 5).attr("stroke", "#000").attr("stroke-width", 1.2);

  g.selectAll(null).data(LOSS_TICKS).join("text")
    .attr("x", x0 - 8).attr("y", (v: number) => ys(v) + 11).attr("text-anchor", "end")
    .attr("font-family", SANS).attr("font-size", 30).text((v: number) => v.toFixed(1));
  xTicks.forEach((t) => {
    const tx = g.append("text").attr("x", xs(2 ** t)).attr("y", TOP_Y1 + 29).attr("text-anchor", "middle")
      .attr("font-family", SANS).attr("font-size", 30);
    powLabel(tx, "2", t, 30, 13);
  });

  const cx = x0 + PANEL_W / 2;
  g.append("text").attr("x", cx).attr("y", 61).attr("text-anchor", "middle").attr("font-family", SANS)
    .attr("font-size", 42).text(PANEL_TITLES[i]);
  g.append("text").attr("x", cx).attr("y", 107).attr("text-anchor", "middle").attr("font-family", SANS)
    .attr("font-size", 42).text(`(LR Exponent Fit: ${FIT_EXPONENTS[i].toFixed(2)})`);
  g.append("text").attr("x", cx).attr("y", 770).attr("text-anchor", "middle").attr("font-family", SANS)
    .attr("font-size", 42).text("Base Learning Rate");

  if (i === 0) {
    g.append("text").attr("transform", `translate(86,${(TOP_Y0 + TOP_Y1) / 2}) rotate(-90)`)
      .attr("text-anchor", "middle").attr("font-family", SANS).attr("font-size", 43).text("Eval Loss");
    // legend
    const lg = g.append("g");
    lg.append("rect").attr("x", 166).attr("y", 244).attr("width", 177).attr("height", 444).attr("rx", 6)
      .attr("fill", "#fff").attr("fill-opacity", 0.8).attr("stroke", "#cccccc").attr("stroke-width", 1.5);
    MODEL_DIMS.forEach((d, k) => {
      const cy = 261.7 + k * 31.1;
      lg.append("path").attr("d", markerPath(MODEL_MARKERS[k], MS))
        .attr("transform", `translate(195,${cy})`).attr("fill", BLUE).attr("stroke", BLUE).attr("stroke-width", 1);
      lg.append("text").attr("x", 234).attr("y", cy + 7.5).attr("font-family", SANS).attr("font-size", 20.5)
        .text(`D=${d}`);
    });
  }
}

function drawBottom(svg: any, defs: any, i: number) {
  const x0 = PANEL_X[i], x1 = x0 + PANEL_W;
  const xs = d3.scaleLog().base(2).domain([2 ** DIM_EXP_RANGE[0], 2 ** DIM_EXP_RANGE[1]]).range([x0, x1]);
  const [lo, hi] = OPT_EXP_RANGES[i];
  const ys = d3.scaleLog().base(2).domain([2 ** lo, 2 ** hi]).range([BOT_Y1, BOT_Y0]);
  const g = svg.append("g");
  const yTicks = d3.range(lo, hi + 0.01, 2);

  g.selectAll(null).data(DIM_EXP_TICKS).join("line")
    .attr("x1", (t: number) => xs(2 ** t)).attr("x2", (t: number) => xs(2 ** t))
    .attr("y1", BOT_Y0).attr("y2", BOT_Y1).attr("stroke", GRID).attr("stroke-width", 1.3);
  g.selectAll(null).data(yTicks).join("line")
    .attr("x1", x0).attr("x2", x1).attr("y1", (t: number) => ys(2 ** t)).attr("y2", (t: number) => ys(2 ** t))
    .attr("stroke", "#c4c4c4").attr("stroke-width", 2.2);

  const clipId = `clip-bot-${i}`;
  defs.append("clipPath").attr("id", clipId).append("rect")
    .attr("x", x0).attr("y", BOT_Y0).attr("width", PANEL_W).attr("height", BOT_Y1 - BOT_Y0);
  const data = g.append("g").attr("clip-path", `url(#${clipId})`);

  MODEL_DIMS.forEach((d, k) => {
    const faded = FADED_DIMS.includes(d);
    data.append("path").attr("d", markerPath(MODEL_MARKERS[k], MS_BOT))
      .attr("transform", `translate(${xs(d)},${ys(2 ** OPTIMA[i][k])})`)
      .attr("fill", ORANGE).attr("fill-opacity", faded ? 0.3 : 1)
      .attr("stroke", ORANGE).attr("stroke-opacity", faded ? 0.35 : 1).attr("stroke-width", 1)
      .attr("stroke-dasharray", faded ? "2 2" : null);
  });

  const fitDims = [2 ** DIM_EXP_RANGE[0], 2 ** DIM_EXP_RANGE[1]];
  const fitLine = d3.line<number>().x((D) => xs(D)).y((D) => ys(FIT_COEFS[i] * Math.pow(D, FIT_EXPONENTS[i])));
  data.append("path").attr("d", fitLine(fitDims)).attr("fill", "none").attr("stroke", BLUE)
    .attr("stroke-width", 3.3).attr("stroke-dasharray", "11 5");

  g.append("rect").attr("x", x0).attr("y", BOT_Y0).attr("width", PANEL_W).attr("height", BOT_Y1 - BOT_Y0)
    .attr("fill", "none").attr("stroke", "#000").attr("stroke-width", 1.1);

  yTicks.forEach((t) => {
    const tx = g.append("text").attr("x", x0 - 7).attr("y", ys(2 ** t) + 11).attr("text-anchor", "end")
      .attr("font-family", SANS).attr("font-size", 30);
    powLabel(tx, "2", t, 30, 12);
  });
  DIM_EXP_TICKS.forEach((t) => {
    const tx = g.append("text").attr("x", xs(2 ** t)).attr("y", BOT_Y1 + 30).attr("text-anchor", "middle")
      .attr("font-family", SANS).attr("font-size", 30);
    powLabel(tx, "2", t, 30, 12);
  });

  g.append("text").attr("x", x0 + PANEL_W / 2).attr("y", 1213).attr("text-anchor", "middle")
    .attr("font-family", SANS).attr("font-size", 42).text("Model Dim (D)");
  if (i === 0) {
    g.append("text").attr("transform", `translate(71,${(BOT_Y0 + BOT_Y1) / 2}) rotate(-90)`)
      .attr("text-anchor", "middle").attr("font-family", SANS).attr("font-size", 42).text("Optimal LR");
  }

  // legend
  const label = `LR = ${fmtCoef(FIT_COEFS[i])} * (D ** ${FIT_EXPONENTS[i].toFixed(2)})`;
  const lg = g.append("g");
  const box = lg.append("rect");
  const txt = lg.append("text").attr("font-family", SANS).attr("font-size", 30).text(label);
  const tw = (txt.node() as SVGTextElement).getComputedTextLength();
  const bw = 96 + tw + 13, bh = 53;
  const bx = x1 - 15 - bw;
  const by = LEGEND_AT_BOTTOM[i] ? BOT_Y1 - 15 - bh : BOT_Y0 + 15;
  box.attr("x", bx).attr("y", by).attr("width", bw).attr("height", bh).attr("rx", 6)
    .attr("fill", "#fff").attr("fill-opacity", 0.8).attr("stroke", "#cccccc").attr("stroke-width", 1.5);
  txt.attr("x", bx + 96).attr("y", by + 36);
  lg.append("line").attr("x1", bx + 10).attr("x2", bx + 71).attr("y1", by + 24).attr("y2", by + 24)
    .attr("stroke", BLUE).attr("stroke-width", 3.3).attr("stroke-dasharray", "11 5");
}

function drawCaption(svg: any) {
  const FS = 56.5, X0 = 24, X1 = 3098, Y0 = 1397, DY = 69.2;
  const meas = svg.append("text").attr("font-family", SERIF).attr("font-size", FS).attr("visibility", "hidden");
  const measure = (w: string, s?: string) => {
    meas.attr("font-style", s === "i" ? "italic" : "normal").attr("font-weight", s === "b" ? "bold" : "normal").text(w);
    return (meas.node() as SVGTextElement).getComputedTextLength();
  };
  const g = svg.append("g");
  CAPTION.forEach((runs, li) => {
    const y = Y0 + li * DY;
    const words: any[] = [];
    runs.forEach((r, ri) => {
      r.t.split(" ").forEach((w, wi) => {
        words.push({ w, s: r.s, u: r.u, link: r.link, glue: wi === 0 && r.glue, run: ri, width: measure(w, r.s) });
      });
    });
    const total = d3.sum(words, (w: any) => w.width);
    const gaps = words.filter((w: any, k: number) => k > 0 && !w.glue).length;
    const gap = (X1 - X0 - total) / gaps;
    let x = X0;
    words.forEach((w: any, k: number) => {
      if (k > 0 && !w.glue) x += gap;
      w.x = x;
      x += w.width;
    });
    runs.forEach((r, ri) => {
      if (!r.u) return;
      const ws = words.filter((w: any) => w.run === ri);
      const a = ws[0].x, b = ws[ws.length - 1].x + ws[ws.length - 1].width;
      g.append("rect").attr("x", a - 2).attr("y", y + 6).attr("width", b - a + 4).attr("height", 6).attr("fill", "#e8321f");
    });
    words.forEach((w: any) => {
      g.append("text").attr("x", w.x).attr("y", y).attr("font-family", SERIF).attr("font-size", FS)
        .attr("font-style", w.s === "i" ? "italic" : "normal").attr("font-weight", w.s === "b" ? "bold" : "normal")
        .attr("fill", w.link ? "#1a2a8c" : "#000").text(w.w);
    });
  });
  meas.remove();
}

function drawAll(node: SVGSVGElement) {
  const svg = d3.select(node);
  svg.selectAll("*").remove();
  svg.append("rect").attr("width", W).attr("height", H).attr("fill", "#fff");
  const defs = svg.append("defs");
  for (let i = 0; i < 4; i++) {
    drawTop(svg, defs, i);
    drawBottom(svg, defs, i);
  }
  drawCaption(svg);
}

export default function App() {
  const ref = useRef<SVGSVGElement>(null);
  useEffect(() => {
    document.body.style.margin = "0";
    if (ref.current) drawAll(ref.current);
  }, []);
  return (
    <svg ref={ref} width={W} height={H} viewBox={`0 0 ${W} ${H}`}
      style={{ position: "absolute", left: 0, top: 0, display: "block", background: "#fff" }} />
  );
}
